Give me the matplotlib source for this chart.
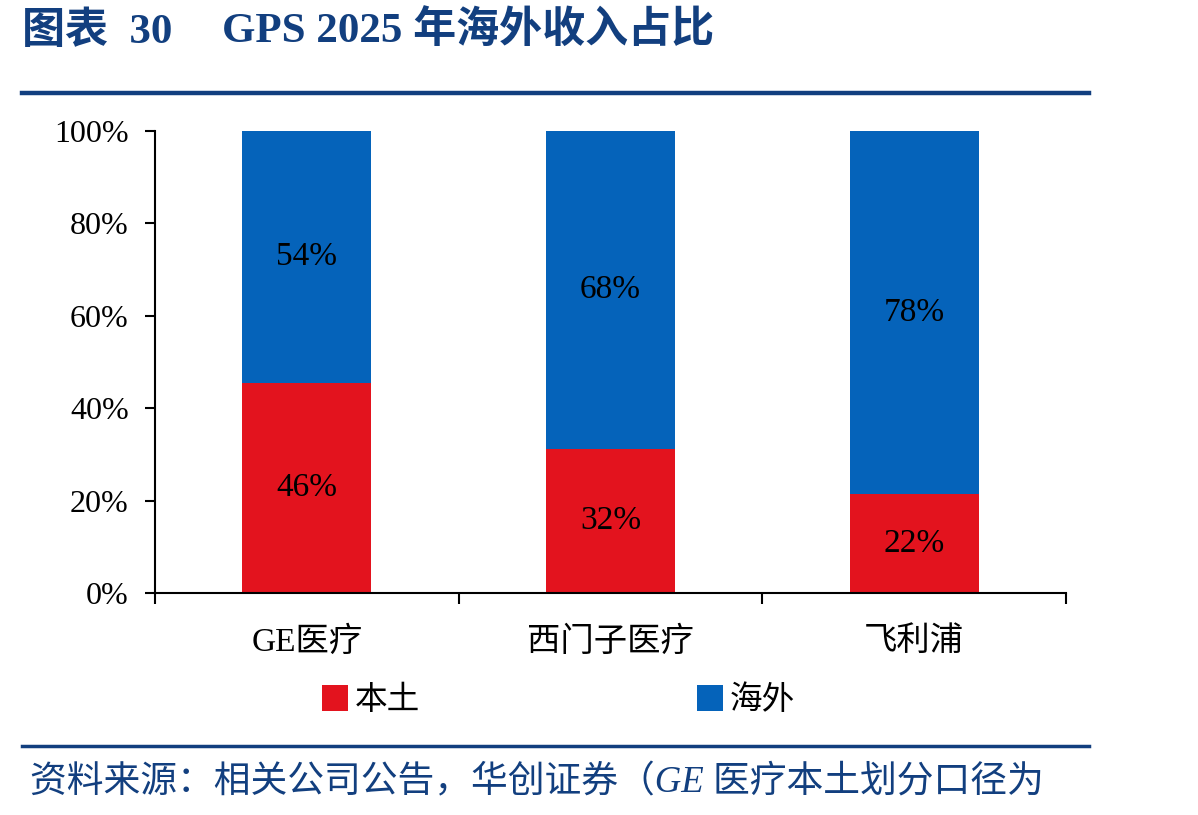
import matplotlib.pyplot as plt
from matplotlib.ticker import FixedLocator, PercentFormatter

companies = ["GE医疗", "西门子医疗", "飞利浦"]
local_share = [45.5, 31.2, 21.4]
overseas_share = [54.5, 68.8, 78.6]
local_labels = ["46%", "32%", "22%"]
overseas_labels = ["54%", "68%", "78%"]
series_names = ["本土", "海外"]

RED = "#E3131E"
BLUE = "#0563BA"
NAVY = "#123F7F"
MIXED = ["Liberation Serif", "Noto Sans CJK SC"]

plt.rcParams["font.family"] = MIXED

fig = plt.figure(figsize=(11.98, 8.15), dpi=100)
ax = fig.add_axes([0.1294, 0.2724, 0.7604, 0.5669])

x = range(len(companies))
bars_local = ax.bar(x, local_share, width=0.424, color=RED, label=series_names[0], zorder=2)
bars_over = ax.bar(x, overseas_share, width=0.424, bottom=local_share, color=BLUE,
                   label=series_names[1], zorder=2)

for rect, text in zip(bars_local, local_labels):
    ax.text(rect.get_x() + rect.get_width() / 2, rect.get_y() + rect.get_height() / 2,
            text, ha="center", va="center", fontsize=24, family="Liberation Serif")
for rect, text in zip(bars_over, overseas_labels):
    ax.text(rect.get_x() + rect.get_width() / 2, rect.get_y() + rect.get_height() / 2,
            text, ha="center", va="center", fontsize=24, family="Liberation Serif")

ax.set_xlim(-0.5, len(companies) - 0.5)
ax.set_ylim(0, 100)
ax.yaxis.set_major_locator(FixedLocator([0, 20, 40, 60, 80, 100]))
ax.yaxis.set_major_formatter(PercentFormatter(decimals=0))
ax.set_xticks(list(x))
ax.set_xticklabels(companies)
ax.set_xticks([i - 0.5 for i in range(len(companies) + 1)], minor=True)

for side in ["top", "right"]:
    ax.spines[side].set_visible(False)
for side in ["left", "bottom"]:
    ax.spines[side].set_linewidth(1.5)
    ax.spines[side].set_zorder(3)

ax.tick_params(axis="y", direction="out", length=7, width=1.5, pad=12, labelsize=23)
ax.tick_params(axis="x", which="major", length=0, pad=24, labelsize=24)
ax.tick_params(axis="x", which="minor", direction="out", length=8, width=1.5)

fig.legend(handles=[bars_local, bars_over], labels=series_names, loc="center",
           bbox_to_anchor=(0.466, 0.141), ncol=2, frameon=False,
           handlelength=0.8, handleheight=0.85, handletextpad=0.2, columnspacing=8.5,
           prop={"family": "Noto Sans CJK SC", "size": 23.5})

# title and frame lines
fig.text(0.018, 0.961, "图表  30", fontsize=31, fontweight="bold", color=NAVY,
         va="center", ha="left")
fig.text(0.185, 0.961, "GPS 2025 年海外收入占比", fontsize=31, fontweight="bold",
         color=NAVY, va="center", ha="left")
fig.add_artist(plt.Line2D([0.018, 0.909], [0.886, 0.886], color=NAVY, lw=3.2))
fig.add_artist(plt.Line2D([0.018, 0.909], [0.085, 0.085], color=NAVY, lw=2.5))
fig.text(0.025, 0.04, "资料来源：相关公司公告，华创证券（GE 医疗本土划分口径为",
         fontsize=26.5, style="italic", color=NAVY, va="center", ha="left")

fig.savefig("out.png", dpi=100)
